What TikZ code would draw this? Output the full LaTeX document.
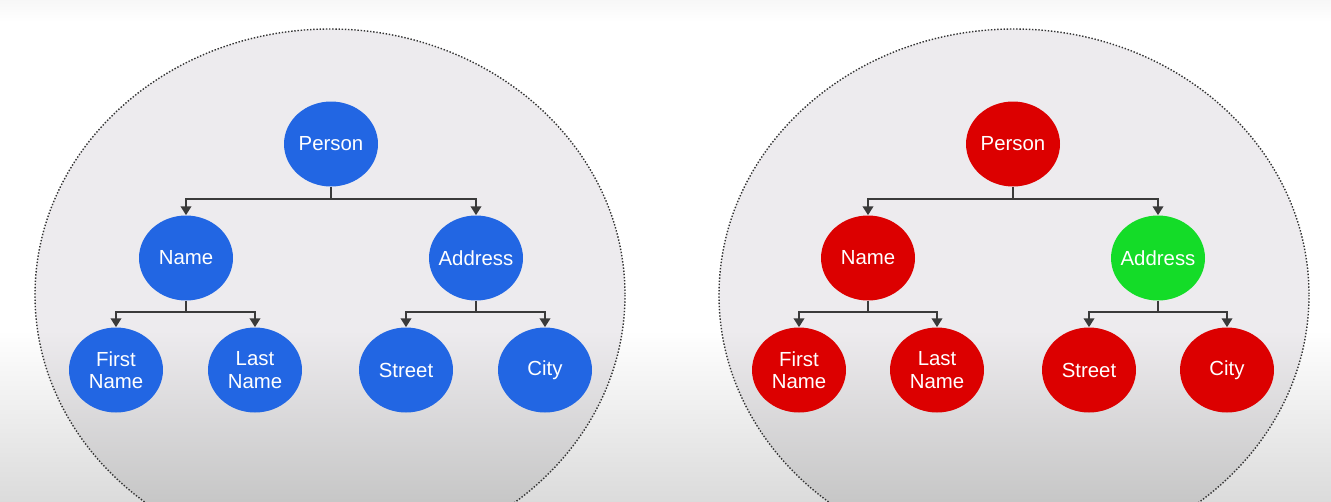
\documentclass[tikz,border=0pt]{standalone}
\usepackage{fontspec}
\setmainfont{Liberation Sans}
\usepackage{tikz}
\usetikzlibrary{arrows.meta,calc,shapes.geometric}
\definecolor{TreeBlue}{HTML}{2266E3}
\definecolor{TreeRed}{HTML}{DC0000}
\definecolor{TreeGreen}{HTML}{14DC28}
\definecolor{BubbleGray}{HTML}{EDEBEE}
\definecolor{LinkGray}{HTML}{3A3A3A}

\begin{document}
\begin{tikzpicture}[x=0.02cm,y=-0.02cm,
    field/.style={ellipse,minimum width=1.88cm,minimum height=1.7cm,
      inner xsep=-8pt,inner ysep=0pt,
      text=white,align=center,font=\fontsize{11.6}{12.8}\selectfont},
    link/.style={LinkGray,line width=1pt,-{Triangle[length=5pt,width=6pt]}}]
  \useasboundingbox (0,0) rectangle (1331,501);
  % backdrop
  \fill[white] (0,0) rectangle (1331,501);
  \shade[top color=white,bottom color=black!14] (0,330) rectangle (1331,501);
  \fill[top color=black!3,bottom color=white] (0,0) rectangle (1331,22);
  % the two bubbles
  \foreach \cx in {330,1014} {
    \fill[BubbleGray] (\cx,295) ellipse [x radius=295,y radius=266];
    \begin{scope}
      \clip (\cx,295) ellipse [x radius=295,y radius=266];
      \shade[top color=BubbleGray,bottom color=black!22] (\cx-300,330) rectangle (\cx+300,501);
    \end{scope}
    \draw[densely dotted,black!80,line width=0.8pt] (\cx,295) ellipse [x radius=295,y radius=266];
  }

  % left tree
  \node[field,fill=TreeBlue] (lperson) at (331,144) {Person};
  \node[field,fill=TreeBlue] (lname) at (186,258) {Name};
  \node[field,fill=TreeBlue] (laddr) at (476,258) {Address};
  \node[field,fill=TreeBlue] (lfirst) at (116,370) {First\\Name};
  \node[field,fill=TreeBlue] (llast) at (255,370) {Last\\Name};
  \node[field,fill=TreeBlue] (lstreet) at (406,370) {Street};
  \node[field,fill=TreeBlue] (lcity) at (545,370) {City};
  \draw[link] (lperson.south) -- ++(0,12) -| (lname.north);
  \draw[link] (lperson.south) -- ++(0,12) -| (laddr.north);
  \draw[link] (lname.south) -- ++(0,11) -| (lfirst.north);
  \draw[link] (lname.south) -- ++(0,11) -| (llast.north);
  \draw[link] (laddr.south) -- ++(0,11) -| (lstreet.north);
  \draw[link] (laddr.south) -- ++(0,11) -| (lcity.north);

  % right tree
  \node[field,fill=TreeRed] (rperson) at (1013,144) {Person};
  \node[field,fill=TreeRed] (rname) at (868,258) {Name};
  \node[field,fill=TreeGreen] (raddr) at (1158,258) {Address};
  \node[field,fill=TreeRed] (rfirst) at (799,370) {First\\Name};
  \node[field,fill=TreeRed] (rlast) at (937,370) {Last\\Name};
  \node[field,fill=TreeRed] (rstreet) at (1089,370) {Street};
  \node[field,fill=TreeRed] (rcity) at (1227,370) {City};
  \draw[link] (rperson.south) -- ++(0,12) -| (rname.north);
  \draw[link] (rperson.south) -- ++(0,12) -| (raddr.north);
  \draw[link] (rname.south) -- ++(0,11) -| (rfirst.north);
  \draw[link] (rname.south) -- ++(0,11) -| (rlast.north);
  \draw[link] (raddr.south) -- ++(0,11) -| (rstreet.north);
  \draw[link] (raddr.south) -- ++(0,11) -| (rcity.north);
\end{tikzpicture}
\end{document}
